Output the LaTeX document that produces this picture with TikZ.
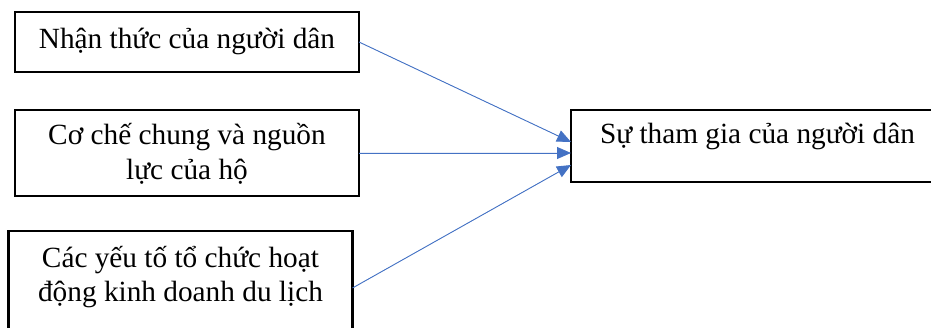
\documentclass[tikz,border=0pt]{standalone}
\usepackage{fontspec}
\setmainfont{Liberation Serif}
\usetikzlibrary{arrows.meta}
\definecolor{linkblue}{RGB}{68,114,196}

\begin{document}
\begin{tikzpicture}[x=1pt,y=-1pt,>={Triangle[length=14pt,width=12pt]},
      main node/.style={draw,line width=2.5pt,outer sep=0pt,inner sep=0pt,
        anchor=north west,align=center,font=\fontsize{29.3}{35}\selectfont},
      link/.style={->,draw=linkblue,fill=linkblue,line width=0.9pt}]
    \useasboundingbox (0,0) rectangle (931,328);

        \node[main node,minimum width=344pt,text height=37pt,text depth=23pt] (1) at (15,12) {Nhận thức của người dân};
        \node[main node,minimum width=344pt,text height=70pt,text depth=16pt] (2) at (15,110) {Cơ chế chung và nguồn\\lực của hộ};
        \node[main node,minimum width=344pt,text height=71pt,text depth=43pt] (3) at (8.5,231) {Các yếu tố tổ chức hoạt\\động kinh doanh du lịch};
        \node[main node,align=flush left,text width=342pt,inner xsep=29pt,text height=34pt,text depth=38pt] (4) at (571,110) {Sự tham gia của người dân};

        \path
            (1.east) edge[link] ([yshift=4pt]4.west)
            (2.east) edge[link] ([yshift=-7pt]4.west)
            (3.east) edge[link] ([yshift=-19pt]4.west)
        ;
    \end{tikzpicture}
\end{document}
